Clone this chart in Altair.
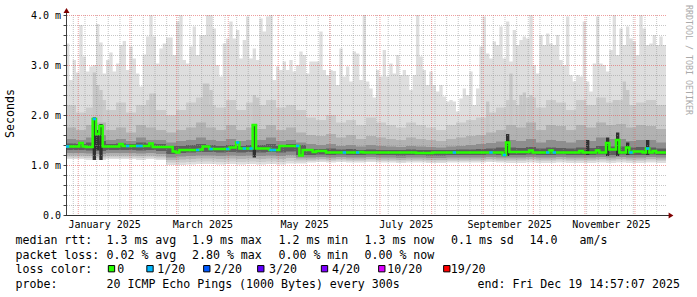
import altair as alt
import pandas as pd

# ---------------- time window (360 days ending at the "end" stamp) ----------------
START = pd.Timestamp("2024-12-24 14:57:07")
END = pd.Timestamp("2025-12-19 14:57:07")

# ---------------- 180 two-day bins ----------------
# top of the smoke (slowest of the 20 pings), ms
max_ms = [
    3.43, 2.70, 3.10, 2.85, 3.80, 3.17, 2.87, 2.97, 3.00, 3.82,
    3.45, 2.83, 3.10, 3.25, 2.87, 3.03, 3.40, 3.48, 2.90, 3.37,
    3.13, 2.83, 2.57, 3.21, 3.57, 4.00, 3.57, 3.03, 3.33, 3.43,
    3.55, 3.55, 3.20, 3.87, 4.00, 3.10, 3.03, 3.37, 3.77, 3.20,
    3.60, 3.60, 4.00, 4.00, 3.73, 3.00, 2.77, 3.43, 3.53, 3.87,
    3.53, 3.70, 3.13, 3.50, 3.97, 3.13, 3.33, 3.10, 3.93, 3.67,
    3.97, 4.00, 2.70, 2.97, 2.90, 3.07, 2.90, 3.10, 2.87, 3.00,
    3.27, 3.20, 2.83, 3.07, 3.07, 3.07, 3.67, 2.90, 2.80, 2.90,
    2.88, 2.60, 3.33, 2.77, 2.97, 2.67, 3.27, 3.23, 2.70, 4.00,
    2.67, 2.53, 2.35, 2.90, 2.77, 3.30, 2.77, 3.03, 2.83, 3.20,
    2.80, 2.90, 2.80, 2.50, 2.80, 4.00, 3.17, 2.90, 2.60, 2.87,
    2.60, 2.47, 2.60, 2.37, 2.27, 2.30, 2.27, 2.07, 2.33, 2.53,
    2.40, 2.87, 2.20, 2.53, 3.37, 3.97, 3.23, 3.13, 3.47, 3.40,
    3.77, 3.13, 3.87, 3.07, 3.70, 3.40, 3.50, 3.57, 3.53, 4.00,
    3.00, 2.83, 3.60, 3.40, 3.63, 3.43, 3.40, 3.60, 3.10, 3.00,
    3.97, 2.80, 2.67, 2.80, 2.77, 3.87, 2.67, 2.47, 3.03, 3.97,
    3.03, 3.00, 2.87, 3.30, 4.00, 3.20, 3.73, 3.40, 3.77, 3.53,
    3.47, 3.20, 4.00, 3.73, 3.40, 3.43, 3.60, 3.40, 3.57, 3.40,
]
# median rtt, ms
median_ms = [
    1.37, 1.37, 1.37, 1.37, 1.44, 1.37, 1.36, 1.36, 1.92, 1.62,
    1.78, 1.37, 1.37, 1.37, 1.37, 1.37, 1.42, 1.38, 1.38, 1.38,
    1.38, 1.38, 1.38, 1.38, 1.38, 1.43, 1.36, 1.36, 1.36, 1.36,
    1.36, 1.36, 1.27, 1.25, 1.30, 1.30, 1.30, 1.30, 1.30, 1.30,
    1.31, 1.37, 1.37, 1.32, 1.32, 1.32, 1.32, 1.32, 1.32, 1.35,
    1.35, 1.45, 1.33, 1.33, 1.33, 1.33, 1.80, 1.33, 1.33, 1.33,
    1.33, 1.30, 1.30, 1.30, 1.38, 1.38, 1.38, 1.38, 1.38, 1.38,
    1.19, 1.30, 1.30, 1.30, 1.26, 1.28, 1.28, 1.28, 1.25, 1.25,
    1.25, 1.25, 1.25, 1.25, 1.25, 1.25, 1.25, 1.25, 1.26, 1.25,
    1.25, 1.25, 1.25, 1.25, 1.25, 1.25, 1.25, 1.25, 1.25, 1.25,
    1.25, 1.25, 1.25, 1.25, 1.25, 1.24, 1.24, 1.24, 1.24, 1.24,
    1.25, 1.25, 1.25, 1.25, 1.25, 1.25, 1.25, 1.25, 1.25, 1.25,
    1.25, 1.25, 1.25, 1.25, 1.25, 1.25, 1.25, 1.25, 1.25, 1.25,
    1.25, 1.20, 1.45, 1.26, 1.26, 1.26, 1.26, 1.26, 1.26, 1.29,
    1.25, 1.25, 1.25, 1.25, 1.25, 1.29, 1.25, 1.25, 1.25, 1.25,
    1.25, 1.25, 1.25, 1.25, 1.28, 1.25, 1.25, 1.25, 1.25, 1.29,
    1.25, 1.25, 1.44, 1.31, 1.31, 1.50, 1.25, 1.25, 1.35, 1.25,
    1.27, 1.27, 1.27, 1.25, 1.33, 1.25, 1.28, 1.25, 1.25, 1.25,
]
# bins whose median segment is drawn in the 1/20 loss colour
loss_bins = [0, 8, 18, 21, 22, 39, 43, 48, 51, 53, 55, 61, 62, 69, 83, 87,
             116, 127, 131, 144, 146, 169, 174]
# dark vertical smoke streaks
spike_bins = [8, 9, 10, 56, 132, 156, 162, 165, 168, 174]
spike_lo = [1.10, 1.30, 1.10, 1.15, 1.18, 1.20, 1.18, 1.18, 1.20, 1.20]
spike_hi = [1.95, 1.70, 1.82, 1.82, 1.62, 1.50, 1.55, 1.65, 1.45, 1.50]
# mid-grey streaks reaching high
streak_bins = [8, 9, 10, 25, 26, 41, 42, 43, 56, 57, 126, 133, 136, 137, 139, 164, 165, 167, 168]
streak_hi = [2.85, 2.60, 2.50, 2.43, 2.43, 2.63, 2.63, 2.50, 2.40, 2.35, 2.27, 2.83,
             2.40, 2.45, 2.40, 2.30, 2.30, 2.67, 2.50]

# ---------------- 60 six-day bins: smoke band edges, ms ----------------
hi2 = [2.20, 2.05, 2.15, 2.30, 2.10, 2.25, 2.05, 2.20, 2.30, 2.10, 2.00,
       2.10, 2.25, 2.35, 2.20, 2.15, 2.30, 2.10, 2.25, 2.20, 2.30, 2.15, 2.20, 2.10,
       1.95, 1.90, 2.00, 1.85, 1.90, 1.80, 1.95, 1.85, 1.80, 1.75, 1.85, 1.80, 1.75, 1.70,
       1.80, 1.85, 1.90, 1.95, 2.05, 2.15,
       2.30, 2.20, 2.35, 2.15, 2.30, 2.25, 2.10, 2.30, 2.20, 2.35, 2.25, 2.30, 2.20, 2.25, 2.30, 2.20]
hi3 = [1.75, 1.70, 1.80, 1.85, 1.70, 1.75, 1.65, 1.80, 1.75, 1.70, 1.65,
       1.70, 1.75, 1.85, 1.75, 1.70, 1.80, 1.70, 1.75, 1.72, 1.80, 1.70, 1.75, 1.65,
       1.60, 1.58, 1.62, 1.55, 1.60, 1.52, 1.58, 1.55, 1.52, 1.50, 1.55, 1.52, 1.50, 1.48,
       1.52, 1.55, 1.58, 1.60, 1.65, 1.70,
       1.80, 1.75, 1.85, 1.70, 1.80, 1.78, 1.70, 1.80, 1.75, 1.85, 1.80, 1.82, 1.75, 1.80, 1.78, 1.72]
hi4 = [1.52, 1.50, 1.55, 1.60, 1.50, 1.52, 1.48, 1.55, 1.50, 1.50, 1.45,
       1.48, 1.50, 1.55, 1.50, 1.48, 1.52, 1.48, 1.50, 1.50, 1.55, 1.48, 1.50, 1.45,
       1.42, 1.40, 1.42, 1.38, 1.40, 1.37, 1.40, 1.38, 1.37, 1.36, 1.38, 1.37, 1.36, 1.35,
       1.37, 1.38, 1.40, 1.42, 1.44, 1.47,
       1.50, 1.48, 1.52, 1.45, 1.50, 1.48, 1.45, 1.50, 1.48, 1.55, 1.52, 1.52, 1.48, 1.50, 1.50, 1.45]
hi5 = [1.43, 1.42, 1.45, 1.48, 1.42, 1.43, 1.42, 1.45, 1.43, 1.42, 1.38,
       1.38, 1.40, 1.42, 1.40, 1.38, 1.40, 1.38, 1.40, 1.40, 1.42, 1.38, 1.42, 1.40,
       1.32, 1.32, 1.33, 1.31, 1.32, 1.30, 1.31, 1.30, 1.30, 1.30, 1.31, 1.30, 1.30, 1.30,
       1.30, 1.31, 1.31, 1.32, 1.33, 1.35,
       1.35, 1.34, 1.36, 1.33, 1.35, 1.34, 1.33, 1.35, 1.34, 1.38, 1.37, 1.37, 1.35, 1.36, 1.35, 1.33]
lo5 = [1.30, 1.30, 1.29, 1.28, 1.30, 1.30, 1.30, 1.29, 1.30, 1.28, 1.22,
       1.24, 1.25, 1.26, 1.26, 1.25, 1.26, 1.25, 1.26, 1.25, 1.26, 1.25, 1.27, 1.20,
       1.20, 1.21, 1.20, 1.21, 1.20, 1.20, 1.21, 1.20, 1.20, 1.19, 1.20, 1.20, 1.19, 1.19,
       1.20, 1.20, 1.20, 1.20, 1.21, 1.20,
       1.20, 1.20, 1.21, 1.20, 1.20, 1.21, 1.20, 1.20, 1.20, 1.21, 1.20, 1.21, 1.20, 1.20, 1.21, 1.20]
lo4 = [1.24, 1.24, 1.23, 1.22, 1.24, 1.24, 1.24, 1.23, 1.24, 1.22, 1.15,
       1.17, 1.18, 1.19, 1.19, 1.18, 1.19, 1.18, 1.19, 1.18, 1.19, 1.18, 1.20, 1.15,
       1.15, 1.16, 1.15, 1.16, 1.15, 1.15, 1.16, 1.15, 1.15, 1.14, 1.15, 1.15, 1.14, 1.14,
       1.15, 1.15, 1.15, 1.15, 1.16, 1.15,
       1.15, 1.15, 1.16, 1.15, 1.15, 1.16, 1.15, 1.15, 1.15, 1.16, 1.15, 1.16, 1.15, 1.15, 1.16, 1.15]
lo3 = [1.19, 1.19, 1.18, 1.17, 1.19, 1.19, 1.19, 1.18, 1.19, 1.17, 1.10,
       1.11, 1.12, 1.13, 1.13, 1.12, 1.13, 1.12, 1.13, 1.12, 1.13, 1.12, 1.14, 1.11,
       1.11, 1.12, 1.11, 1.12, 1.11, 1.11, 1.12, 1.11, 1.11, 1.10, 1.11, 1.11, 1.10, 1.10,
       1.11, 1.11, 1.11, 1.11, 1.12, 1.11,
       1.11, 1.11, 1.12, 1.11, 1.11, 1.12, 1.11, 1.11, 1.11, 1.12, 1.11, 1.12, 1.11, 1.11, 1.12, 1.11]
lo2 = [1.15, 1.15, 1.14, 1.13, 1.15, 1.15, 1.15, 1.14, 1.15, 1.13, 1.05,
       1.05, 1.06, 1.07, 1.07, 1.06, 1.07, 1.06, 1.07, 1.06, 1.07, 1.06, 1.08, 1.07,
       1.08, 1.09, 1.08, 1.09, 1.08, 1.08, 1.09, 1.08, 1.08, 1.07, 1.08, 1.08, 1.07, 1.07,
       1.08, 1.08, 1.08, 1.08, 1.09, 1.08,
       1.08, 1.08, 1.09, 1.08, 1.08, 1.09, 1.08, 1.08, 1.08, 1.09, 1.08, 1.09, 1.08, 1.08, 1.09, 1.08]
lo1 = [1.12, 1.12, 1.10, 1.10, 1.12, 1.12, 1.12, 1.10, 1.12, 1.10, 1.00,
       1.00, 1.01, 1.02, 1.02, 1.01, 1.02, 1.01, 1.02, 1.01, 1.02, 1.01, 1.03, 1.03,
       1.05, 1.06, 1.05, 1.06, 1.05, 1.05, 1.06, 1.05, 1.05, 1.04, 1.05, 1.05, 1.04, 1.04,
       1.05, 1.05, 1.05, 1.05, 1.06, 1.05,
       1.04, 1.04, 1.05, 1.04, 1.04, 1.05, 1.04, 1.04, 1.04, 1.05, 1.04, 1.05, 1.04, 1.04, 1.05, 1.04]

# ---------------- axes / grid ----------------
month_starts = ["2025-01-01", "2025-02-01", "2025-03-01", "2025-04-01", "2025-05-01", "2025-06-01",
                "2025-07-01", "2025-08-01", "2025-09-01", "2025-10-01", "2025-11-01", "2025-12-01"]
label_months = [(2025, 1), (2025, 3), (2025, 5), (2025, 7), (2025, 9), (2025, 11)]
y_ticks = [0, 0.2, 0.4, 0.6, 0.8, 1.0, 1.2, 1.4, 1.6, 1.8, 2.0, 2.2, 2.4, 2.6, 2.8,
           3.0, 3.2, 3.4, 3.6, 3.8, 4.0]
y_minor = [0.2, 0.4, 0.6, 0.8, 1.2, 1.4, 1.6, 1.8, 2.2, 2.4, 2.6, 2.8, 3.2, 3.4, 3.6, 3.8]
y_major = [1.0, 2.0, 3.0, 4.0]

# ---------------- legend texts ----------------
leg_text = ["median rtt:", "1.3 ms avg", "1.9 ms max", "1.2 ms min", "1.3 ms now", "0.1 ms sd", "14.0", "am/s",
            "packet loss:", "0.02 % avg", "2.80 % max", "0.00 % min", "0.00 % now",
            "loss color:", "0", "1/20", "2/20", "3/20", "4/20", "10/20", "19/20",
            "probe:", "20 ICMP Echo Pings (1000 Bytes) every 300s", "end: Fri Dec 19 14:57:07 2025"]
leg_x = [15.5, 106.5, 192, 278.5, 364.5, 451, 529.5, 579.5,
         15.5, 106.5, 192, 278.5, 364.5,
         15.5, 117.3, 157.3, 214, 269, 332, 387.3, 450.7,
         15.5, 106.5, 477.5]
leg_y = [244.3] * 8 + [259.0] * 5 + [273.3] * 8 + [287.7] * 3
loss_colors = ["#26ff00", "#00b8ff", "#0059ff", "#5e00ff", "#7e00ff", "#dd00ff", "#ff0000"]
square_x = [111.5, 150.0, 206.8, 260.8, 324.5, 381.8, 446.8]
square_y = 268.7

OX, OY = 66, 15  # plot origin in the page
MONO = "DejaVu Sans Mono"


def step_frame(n, **cols):
    """one row per bin start plus a closing row, for step-after areas/lines"""
    step = (END - START) / n
    df = pd.DataFrame({"date": [START + step * i for i in range(n + 1)]})
    for k, v in cols.items():
        df[k] = list(v) + [v[-1]]
    return df


def seg_frame(n, idx, **cols):
    """two rows (bin start, bin end) per selected bin, grouped by 'seg'"""
    step = (END - START) / n
    rows = []
    for j, i in enumerate(idx):
        for edge in (i, i + 1):
            row = {"seg": j, "date": START + step * edge}
            for k, v in cols.items():
                row[k] = v[j]
            rows.append(row)
    return pd.DataFrame(rows)


def dt(ts):
    return alt.DateTime(year=ts.year, month=ts.month, date=ts.day,
                        hours=ts.hour, minutes=ts.minute, seconds=ts.second)


XS = alt.Scale(domain=[dt(START), dt(END)], nice=False)
YS = alt.Scale(domain=[0, 4], nice=False, zero=False)

Y_AXIS = alt.Axis(
    values=y_ticks, grid=False, domain=False, tickSize=3, tickColor="#404040",
    labelFont=MONO, labelFontSize=10, labelColor="black", labelPadding=2.5,
    labelAlign="right", labelBaseline="middle", labelOverlap=False,
    labelExpr="datum.value == 0 ? '0.0\u00a0\u00a0' : (abs(datum.value - round(datum.value)) < 0.001 ? format(datum.value, '.1f') + '\u00a0m' : '')",
    title="Seconds", titleFont=MONO, titleFontSize=11.6, titleFontWeight="normal", titleColor="black",
    titleX=-56, titleY=98, titleAngle=-90, titleAlign="center", titleBaseline="middle",
)
X_AXIS = alt.Axis(
    values=[alt.DateTime(year=y, month=m, date=16, hours=12) for y, m in label_months],
    format="%B %Y", formatType="time", grid=False, domain=False, ticks=False, tickSize=0,
    labelFont=MONO, labelFontSize=10, labelColor="black", labelPadding=12,
    labelBaseline="alphabetic", labelAlign="center", labelFlush=False, labelOverlap=False, title=None,
)


def X(field="date"):
    return alt.X(f"{field}:T", scale=XS, axis=X_AXIS)


def Y(field):
    return alt.Y(f"{field}:Q", scale=YS, axis=Y_AXIS)


fine = step_frame(180, mx=max_ms, med=median_ms)
bands = step_frame(60, hi2=hi2, hi3=hi3, hi4=hi4, hi5=hi5, lo5=lo5, lo4=lo4, lo3=lo3, lo2=lo2, lo1=lo1)


def band(color, hi, lo):
    return (alt.Chart(bands).mark_area(interpolate="step-after", color=color)
            .encode(x=X(), y=Y(hi), y2=f"{lo}:Q"))


layers = []
# smoke
layers.append(alt.Chart(fine).mark_area(interpolate="step-after", color="#dedede")
              .encode(x=X(), y=Y("mx"), y2=alt.datum(1.6)))
layers.append(band("#dedede", "hi2", "lo1"))
layers.append(band("#cbcbcb", "hi2", "lo2"))
layers.append(alt.Chart(seg_frame(180, streak_bins, hi=streak_hi)).mark_area(color="#c6c6c6")
              .encode(x=X(), y=Y("hi"), y2=alt.datum(1.5), detail="seg:N"))
layers.append(band("#b2b2b2", "hi3", "lo3"))
layers.append(band("#8e8e8e", "hi4", "lo4"))
layers.append(band("#5e5e5e", "hi5", "lo5"))
layers.append(alt.Chart(seg_frame(180, spike_bins, lo=spike_lo, hi=spike_hi)).mark_area(color="#303030")
              .encode(x=X(), y=Y("hi"), y2="lo:Q", detail="seg:N"))

# grid
weeks = pd.DataFrame({"date": pd.date_range("2024-12-29", "2025-12-14", freq="7D")})
months = pd.DataFrame({"date": pd.to_datetime(month_starts)})
layers.append(alt.Chart(weeks).mark_rule(color="#8f8f8f", opacity=0.5, strokeDash=[1, 1], strokeWidth=1)
              .encode(x=X()))
layers.append(alt.Chart(pd.DataFrame({"v": y_minor})).mark_rule(color="#8f8f8f", opacity=0.5, strokeDash=[1, 1],
                                                                 strokeWidth=1, yOffset=0.5)
              .encode(y=Y("v")))
layers.append(alt.Chart(months).mark_rule(color="#e05050", opacity=0.55, strokeDash=[1, 1], strokeWidth=1)
              .encode(x=X()))
layers.append(alt.Chart(pd.DataFrame({"v": y_major})).mark_rule(color="#e05050", opacity=0.55, strokeDash=[1, 1],
                                                                 strokeWidth=1, yOffset=0.5)
              .encode(y=Y("v")))

# axis lines and arrows
dummy = pd.DataFrame({"a": [0]})
layers.append(alt.Chart(dummy).mark_rule(color="#303030", strokeWidth=1)
              .encode(x=alt.value(-1), x2=alt.value(603), y=alt.value(200.5)))
layers.append(alt.Chart(dummy).mark_rule(color="#404040", strokeWidth=1)
              .encode(x=alt.value(0.5), y=alt.value(200), y2=alt.value(-3)))
layers.append(alt.Chart(dummy).mark_point(shape="M-1,0.8L1,0.8L0,-0.8Z", filled=True, size=36,
                                          color="#7f0000", opacity=1)
              .encode(x=alt.value(0.5), y=alt.value(-4.5)))
layers.append(alt.Chart(dummy).mark_point(shape="M-0.8,-1L0.8,0L-0.8,1Z", filled=True, size=36,
                                          color="#7f0000", opacity=1)
              .encode(x=alt.value(605), y=alt.value(200.5)))

# median line and loss colour segments
layers.append(alt.Chart(fine).mark_line(interpolate="step-after", color="#26ff00", strokeWidth=2.5)
              .encode(x=X(), y=Y("med")))
loss = seg_frame(180, loss_bins, med=[median_ms[i] for i in loss_bins])
layers.append(alt.Chart(loss).mark_line(color="#00b8ff", strokeWidth=2.5)
              .encode(x=X(), y=Y("med"), detail="seg:N"))

# legend text
for t, x, y in zip(leg_text, leg_x, leg_y):
    layers.append(alt.Chart(dummy).mark_text(align="left", baseline="alphabetic", font=MONO, fontSize=11.6,
                                             color="black")
                  .encode(x=alt.value(x - OX), y=alt.value(y - OY), text=alt.value(t)))
for c, x in zip(loss_colors, square_x):
    layers.append(alt.Chart(dummy).mark_square(filled=True, size=40, color=c, stroke="black", strokeWidth=1,
                                               opacity=1)
                  .encode(x=alt.value(x - OX), y=alt.value(square_y - OY)))
layers.append(alt.Chart(dummy).mark_text(angle=90, align="left", baseline="middle", font=MONO, fontSize=8.3,
                                         color="#aaaaaa")
              .encode(x=alt.value(688.3 - OX), y=alt.value(5 - OY), text=alt.value("RRDTOOL / TOBI OETIKER")))

chart = alt.layer(*layers).properties(
    width=600, height=200,
    padding={"left": OX, "top": OY, "right": 697 - OX - 600, "bottom": 297 - OY - 200},
    autosize=alt.AutoSizeParams(type="none"),
    background="white",
).configure_view(stroke=None)

chart.save("out.html", embed_options={"renderer": "svg", "actions": False})
